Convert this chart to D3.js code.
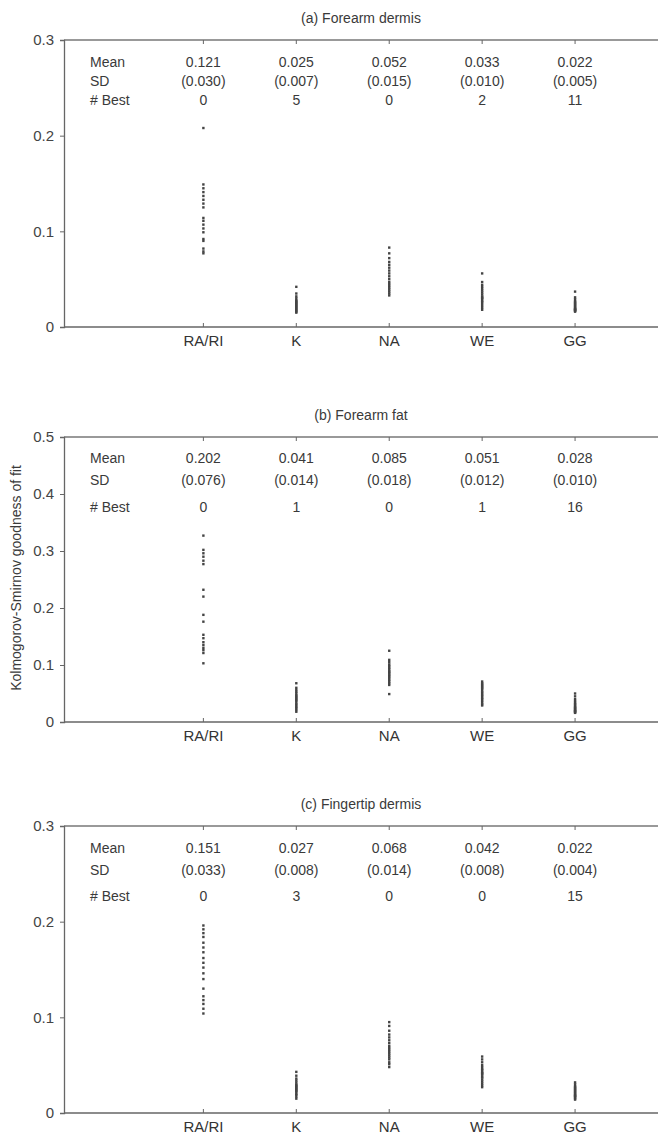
<!DOCTYPE html>
<html>
<head>
<meta charset="utf-8">
<script src="https://d3js.org/d3.v7.min.js"></script>
<style>
body { margin: 0; background: #fff; }
svg { font-family: "Liberation Sans", Arial, sans-serif; }
.lbl { fill: #3a3a3a; font-size: 14px; }
.cat { fill: #333; font-size: 15px; }
</style>
</head>
<body>
<div id="chart"></div>
<script>
// categories along x
var categories = ["RA/RI", "K", "NA", "WE", "GG"];
var rowNames = ["Mean", "SD", "# Best"];

// panel (a) Forearm dermis
var dermisA = {
  "RA/RI": [0.208, 0.149, 0.145, 0.141, 0.137, 0.133, 0.129, 0.125, 0.114, 0.111, 0.107, 0.103, 0.099, 0.092, 0.090, 0.082, 0.079, 0.077],
  "K":  [0.042, 0.035, 0.032, 0.030, 0.028, 0.027, 0.026, 0.025, 0.024, 0.023, 0.022, 0.021, 0.020, 0.019, 0.018, 0.017, 0.016, 0.015],
  "NA": [0.083, 0.077, 0.072, 0.068, 0.065, 0.062, 0.059, 0.056, 0.053, 0.050, 0.047, 0.045, 0.043, 0.041, 0.039, 0.037, 0.035, 0.033],
  "WE": [0.056, 0.047, 0.044, 0.042, 0.040, 0.038, 0.036, 0.034, 0.032, 0.031, 0.030, 0.029, 0.027, 0.026, 0.024, 0.022, 0.020, 0.018],
  "GG": [0.037, 0.031, 0.029, 0.027, 0.026, 0.025, 0.024, 0.023, 0.022, 0.021, 0.020, 0.019, 0.019, 0.018, 0.018, 0.017, 0.017, 0.016]
};
var meanA = ["0.121", "0.025", "0.052", "0.033", "0.022"];
var sdA   = ["(0.030)", "(0.007)", "(0.015)", "(0.010)", "(0.005)"];
var bestA = ["0", "5", "0", "2", "11"];

// panel (b) Forearm fat
var fatB = {
  "RA/RI": [0.327, 0.302, 0.296, 0.290, 0.283, 0.277, 0.232, 0.220, 0.188, 0.176, 0.153, 0.147, 0.140, 0.135, 0.130, 0.126, 0.121, 0.103],
  "K":  [0.068, 0.060, 0.056, 0.053, 0.050, 0.047, 0.045, 0.043, 0.041, 0.039, 0.037, 0.034, 0.031, 0.029, 0.026, 0.024, 0.021, 0.018],
  "NA": [0.125, 0.109, 0.105, 0.101, 0.098, 0.095, 0.092, 0.089, 0.087, 0.085, 0.082, 0.080, 0.077, 0.074, 0.071, 0.068, 0.065, 0.049],
  "WE": [0.071, 0.068, 0.066, 0.064, 0.062, 0.060, 0.058, 0.055, 0.052, 0.050, 0.047, 0.045, 0.042, 0.040, 0.037, 0.034, 0.031, 0.029],
  "GG": [0.050, 0.045, 0.040, 0.037, 0.034, 0.032, 0.030, 0.028, 0.026, 0.025, 0.024, 0.022, 0.021, 0.020, 0.019, 0.018, 0.017, 0.016]
};
var meanB = ["0.202", "0.041", "0.085", "0.051", "0.028"];
var sdB   = ["(0.076)", "(0.014)", "(0.018)", "(0.012)", "(0.010)"];
var bestB = ["0", "1", "0", "1", "16"];

// panel (c) Fingertip dermis
var tipC = {
  "RA/RI": [0.196, 0.192, 0.188, 0.184, 0.178, 0.173, 0.168, 0.162, 0.157, 0.152, 0.146, 0.140, 0.130, 0.122, 0.118, 0.114, 0.109, 0.104],
  "K":  [0.043, 0.039, 0.036, 0.034, 0.032, 0.030, 0.029, 0.028, 0.027, 0.026, 0.025, 0.024, 0.023, 0.022, 0.020, 0.019, 0.017, 0.015],
  "NA": [0.095, 0.091, 0.086, 0.082, 0.079, 0.076, 0.073, 0.070, 0.068, 0.066, 0.064, 0.062, 0.060, 0.058, 0.056, 0.053, 0.051, 0.048],
  "WE": [0.059, 0.056, 0.053, 0.050, 0.048, 0.046, 0.045, 0.043, 0.042, 0.041, 0.040, 0.038, 0.037, 0.035, 0.033, 0.031, 0.029, 0.027],
  "GG": [0.032, 0.030, 0.028, 0.027, 0.026, 0.025, 0.024, 0.023, 0.022, 0.021, 0.020, 0.019, 0.018, 0.018, 0.017, 0.016, 0.015, 0.014]
};
var meanC = ["0.151", "0.027", "0.068", "0.042", "0.022"];
var sdC   = ["(0.033)", "(0.008)", "(0.014)", "(0.008)", "(0.004)"];
var bestC = ["0", "3", "0", "0", "15"];

var yTicksA = [0, 0.1, 0.2, 0.3];
var yTicksB = [0, 0.1, 0.2, 0.3, 0.4, 0.5];
var yTicksC = [0, 0.1, 0.2, 0.3];

var W = 658, H = 1137;
var left = 64;

var panels = [
  { title: "(a) Forearm dermis", data: dermisA, rows: [meanA, sdA, bestA], top: 40, bottom: 327, ymax: 0.3, ticks: yTicksA, rowOff: [27, 46, 65] },
  { title: "(b) Forearm fat", data: fatB, rows: [meanB, sdB, bestB], top: 437, bottom: 722, ymax: 0.5, ticks: yTicksB, rowOff: [26, 48, 75] },
  { title: "(c) Fingertip dermis", data: tipC, rows: [meanC, sdC, bestC], top: 826, bottom: 1113, ymax: 0.3, ticks: yTicksC, rowOff: [27, 49, 75] }
];

var svg = d3.select("#chart").append("svg")
  .attr("width", W).attr("height", H);

// category index -> pixel
var x = d3.scaleLinear().domain([-1.5, 5]).range([left, 668]);

panels.forEach(function(p) {
  var y = d3.scaleLinear().domain([0, p.ymax]).range([p.bottom, p.top]);
  var g = svg.append("g");

  // frame lines (open on the right)
  g.append("line").attr("x1", left).attr("x2", W).attr("y1", p.top).attr("y2", p.top)
    .attr("stroke", "#777").attr("stroke-width", 1.3);
  g.append("line").attr("x1", left).attr("x2", W).attr("y1", p.bottom).attr("y2", p.bottom)
    .attr("stroke", "#666").attr("stroke-width", 1.3);

  // left axis
  var ya = d3.axisLeft(y).tickValues(p.ticks).tickSize(4).tickPadding(6)
    .tickFormat(function(d) { return d === 0 ? "0" : d3.format(".1f")(d); });
  var yg = g.append("g").attr("transform", "translate(" + left + ",0)").call(ya);
  yg.select(".domain").attr("stroke", "#666").attr("stroke-width", 1.3);
  yg.selectAll(".tick line").attr("stroke", "#666");
  yg.selectAll(".tick text").attr("font-size", 15).attr("fill", "#444")
    .style("font-family", "'Liberation Sans', Arial, sans-serif");

  // category ticks top and bottom (inward)
  categories.forEach(function(c, i) {
    g.append("line").attr("x1", x(i)).attr("x2", x(i)).attr("y1", p.top).attr("y2", p.top + 4).attr("stroke", "#666");
    g.append("line").attr("x1", x(i)).attr("x2", x(i)).attr("y1", p.bottom).attr("y2", p.bottom - 4).attr("stroke", "#666");
    g.append("text").attr("class", "cat").attr("x", x(i)).attr("y", p.bottom + 19)
      .attr("text-anchor", "middle").text(c);
  });

  // title
  g.append("text").attr("class", "lbl").attr("x", 361).attr("y", p.top - 17)
    .attr("text-anchor", "middle").text(p.title);

  // statistics table
  rowNames.forEach(function(r, k) {
    var ry = p.top + p.rowOff[k];
    g.append("text").attr("class", "lbl").attr("x", 90).attr("y", ry).text(r);
    p.rows[k].forEach(function(v, i) {
      g.append("text").attr("class", "lbl").attr("x", x(i)).attr("y", ry)
        .attr("text-anchor", "middle").text(v);
    });
  });

  // points
  categories.forEach(function(c, i) {
    g.selectAll(null).data(p.data[c]).enter().append("rect")
      .attr("x", x(i) - 1.2).attr("y", function(d) { return y(d) - 1.2; })
      .attr("width", 2.4).attr("height", 2.4)
      .attr("fill", "#444");
  });
});

// shared y label
svg.append("text").attr("class", "lbl")
  .attr("transform", "translate(21,578) rotate(-90)")
  .attr("text-anchor", "middle").text("Kolmogorov-Smirnov goodness of fit");
</script>
</body>
</html>
